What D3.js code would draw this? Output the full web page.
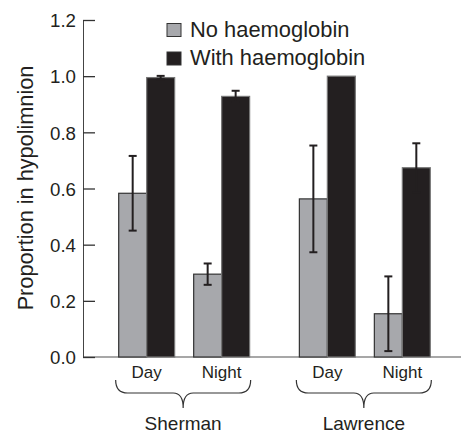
<html>
<head>
<script src="https://d3js.org/d3.v7.min.js"></script>
<style>
  body { margin: 0; background: #fff; }
  text { font-family: "Liberation Sans", Arial, Helvetica, sans-serif; fill: #231f20; }
  .axis text { font-size: 18.7px; }
</style>
</head>
<body>
<svg id="chart" width="462" height="433"></svg>
<script>
// data
const lakes = ["Sherman", "Lawrence"];
const times = ["Day", "Night"];
const conditions = ["No haemoglobin", "With haemoglobin"];
// proportion in hypolimnion, ordered Sherman Day, Sherman Night, Lawrence Day, Lawrence Night
const noHb = [0.583, 0.295, 0.563, 0.154];
const noHbErr = [0.133, 0.038, 0.19, 0.133];
const withHb = [0.995, 0.928, 1.0, 0.674];
const withHbErr = [0.006, 0.02, 0, 0.087];
const yTicks = [0, 0.2, 0.4, 0.6, 0.8, 1.0, 1.2];

const colors = ["#a7a8ac", "#231f20"];

const rows = [];
lakes.forEach(function(lake, i) {
  times.forEach(function(t, j) {
    const k = i * times.length + j;
    rows.push({lake: lake, time: t, cond: conditions[0], value: noHb[k], err: noHbErr[k]});
    rows.push({lake: lake, time: t, cond: conditions[1], value: withHb[k], err: withHbErr[k]});
  });
});

const svg = d3.select("#chart");

const y = d3.scaleLinear().domain([0, 1.2]).range([357, 20]);
const x0 = d3.scaleBand().domain(lakes).range([94, 455]).paddingInner(0.17).paddingOuter(0.084);
const x1 = d3.scaleBand().domain(times).range([0, x0.bandwidth()]);
const x2 = d3.scaleBand().domain(conditions).range([0, x1.bandwidth()]).paddingOuter(0.34);
const color = d3.scaleOrdinal().domain(conditions).range(colors);

const barX = d => x0(d.lake) + x1(d.time) + x2(d.cond);

// baseline
svg.append("line")
  .attr("x1", 83).attr("x2", 461)
  .attr("y1", y(0)).attr("y2", y(0))
  .attr("stroke", "#8a8a8a").attr("stroke-width", 1.5);

// bars
svg.append("g").selectAll("rect")
  .data(rows)
  .join("rect")
  .attr("x", barX)
  .attr("width", x2.bandwidth())
  .attr("y", d => y(d.value))
  .attr("height", d => y(0) - y(d.value))
  .attr("fill", d => color(d.cond))
  .attr("stroke", d => d.cond === conditions[0] ? "#333" : "#777")
  .attr("stroke-width", 1.2);

// error bars
const eb = svg.append("g").attr("stroke", "#231f20").attr("stroke-width", 2)
  .selectAll("g")
  .data(rows.filter(d => d.err > 0))
  .join("g")
  .attr("transform", d => `translate(${barX(d) + x2.bandwidth() / 2},0)`);
eb.append("line")
  .attr("y1", d => y(d.value + d.err)).attr("y2", d => y(d.value - d.err));
eb.append("line")
  .attr("x1", -4).attr("x2", 4)
  .attr("y1", d => y(d.value + d.err)).attr("y2", d => y(d.value + d.err));
eb.append("line")
  .attr("x1", -4).attr("x2", 4)
  .attr("y1", d => y(d.value - d.err)).attr("y2", d => y(d.value - d.err));

// y axis, ticks pointing inward
const yAxis = d3.axisLeft(y)
  .tickValues(yTicks)
  .tickFormat(d3.format(".1f"))
  .tickSizeInner(-12)
  .tickSizeOuter(0)
  .tickPadding(7);
const ga = svg.append("g")
  .attr("class", "axis")
  .attr("transform", "translate(83,0)")
  .call(yAxis);
ga.select(".domain").attr("stroke", "#444");
ga.selectAll(".tick line").attr("stroke", "#333").attr("stroke-width", 1.3);
ga.selectAll(".tick text").attr("fill", "#231f20").attr("dy", "0.36em");

svg.append("text")
  .attr("transform", "rotate(-90)")
  .attr("x", -188)
  .attr("y", 33)
  .attr("text-anchor", "middle")
  .style("font-size", "21.7px")
  .text("Proportion in hypolimnion");

// time labels
svg.append("g").selectAll("text")
  .data(rows.filter(d => d.cond === conditions[0]))
  .join("text")
  .attr("x", d => x0(d.lake) + x1(d.time) + x1.bandwidth() / 2)
  .attr("y", 378)
  .attr("text-anchor", "middle")
  .style("font-size", "17px")
  .text(d => d.time);

// braces and lake names
const half = 67.5;
svg.append("g").selectAll("path")
  .data(lakes)
  .join("path")
  .attr("fill", "none")
  .attr("stroke", "#333")
  .attr("stroke-width", 1.2)
  .attr("d", function(l) {
    const c = x0(l) + x0.bandwidth() / 2 - 1, a = c - half, b = c + half;
    return `M${a},380 Q${a},393 ${a + 12},393 H${c - 10} Q${c},393 ${c},408 ` +
           `Q${c},393 ${c + 10},393 H${b - 12} Q${b},393 ${b},380`;
  });

svg.append("g").selectAll("text")
  .data(lakes)
  .join("text")
  .attr("x", l => x0(l) + x0.bandwidth() / 2 - 1)
  .attr("y", 430)
  .attr("text-anchor", "middle")
  .style("font-size", "19px")
  .text(l => l);

// legend
const lg = svg.append("g").selectAll("g")
  .data(conditions)
  .join("g")
  .attr("transform", (d, i) => `translate(167,${23.5 + i * 28.5})`);
lg.append("rect")
  .attr("width", 14).attr("height", 13)
  .attr("fill", d => color(d))
  .attr("stroke", "#333").attr("stroke-width", 1);
lg.append("text")
  .attr("x", 23)
  .attr("y", 13)
  .style("font-size", "21.9px")
  .text(d => d);
</script>
</body>
</html>
